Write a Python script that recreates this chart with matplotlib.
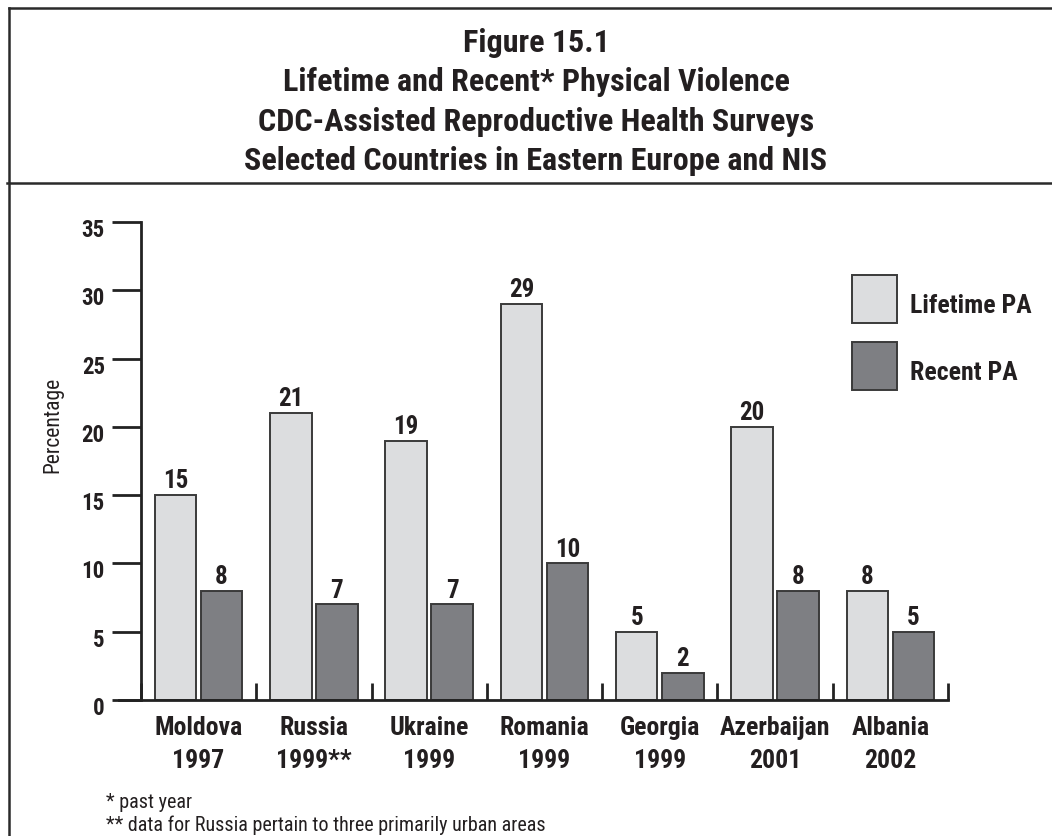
import matplotlib
matplotlib.use("Agg")
import matplotlib.pyplot as plt
import matplotlib.transforms as mtransforms
from matplotlib.lines import Line2D
from matplotlib.patches import Rectangle
import numpy as np

countries = ["Moldova", "Russia", "Ukraine", "Romania", "Georgia", "Azerbaijan", "Albania"]
years = ["1997", "1999**", "1999", "1999", "1999", "2001", "2002"]
lifetime = [15, 21, 19, 29, 5, 20, 8]
recent = [8, 7, 7, 10, 2, 8, 5]
yticks = [0, 5, 10, 15, 20, 25, 30, 35]

light = "#dcdddf"
dark = "#7e7f83"
edge = "#3a3a3a"
txt = "#231f20"

plt.rcParams['font.family'] = ['Roboto Condensed', 'DejaVu Sans']

W, H = 1052, 836
fig = plt.figure(figsize=(W / 100, H / 100), dpi=100)

# frame around title and page
fig.add_artist(Line2D([9 / W, 9 / W], [0, 1 - 8 / H], color="#2a2a2a", lw=1.8))
fig.add_artist(Line2D([9 / W, 1], [1 - 8 / H, 1 - 8 / H], color="#2a2a2a", lw=1.8))
fig.add_artist(Line2D([7 / W, 1], [1 - 183 / H, 1 - 183 / H], color="#2a2a2a", lw=1.8))

titles = ["Figure 15.1", "Lifetime and Recent* Physical Violence",
          "CDC-Assisted Reproductive Health Surveys",
          "Selected Countries in Eastern Europe and NIS"]
for k, t in enumerate(titles):
    fig.text(536 / W, 1 - (52 + 39.3 * k) / H, t, ha="center", va="baseline",
             fontsize=23, fontweight="bold", color=txt)

ax = fig.add_axes([119 / W, 1 - 700 / H, (948 - 119) / W, (700 - 222) / H])
x = np.arange(len(countries))
bw = 0.36
ax.bar(x + 0.30, lifetime, bw, color=light, edgecolor=edge, linewidth=1.4, label="Lifetime PA")
ax.bar(x + 0.70, recent, bw, color=dark, edgecolor=edge, linewidth=1.4, label="Recent PA")

for i in range(len(countries)):
    ax.text(x[i] + 0.30, lifetime[i] + 0.5, str(lifetime[i]), ha="center", va="baseline",
            fontsize=18, fontweight="bold", color=txt)
    ax.text(x[i] + 0.70, recent[i] + 0.5, str(recent[i]), ha="center", va="baseline",
            fontsize=18, fontweight="bold", color=txt)

ax.set_xlim(-0.19, 7)
ax.set_ylim(0, 35)
ax.spines["top"].set_visible(False)
ax.spines["right"].set_visible(False)
ax.spines["left"].set_position(("data", 0))
ax.spines["left"].set_linewidth(2)
ax.spines["bottom"].set_linewidth(2)
ax.spines["left"].set_color("#222222")
ax.spines["bottom"].set_color("#222222")

ax.set_yticks(yticks)
ax.set_yticklabels([str(v) for v in yticks], fontsize=16.5, fontweight="bold", color=txt)
ax.tick_params(axis="y", direction="out", length=21, width=2, pad=5, color="#222222")
shift = mtransforms.ScaledTranslation(0, -6 / 100, fig.dpi_scale_trans)
for lab in ax.get_yticklabels():
    lab.set_transform(lab.get_transform() + shift)

# group boundary ticks on the x axis
ax.set_xticks(np.arange(0, 8))
ax.set_xticklabels([])
ax.tick_params(axis="x", direction="in", length=12, width=2, color="#222222")
axh = 700 - 222
for i in range(len(countries)):
    ax.text(x[i] + 0.5, (700 - 735) / axh, countries[i], transform=ax.get_xaxis_transform(),
            ha="center", va="baseline", fontsize=18.5, fontweight="bold", color=txt)
    ax.text(x[i] + 0.5, (700 - 768) / axh, years[i], transform=ax.get_xaxis_transform(),
            ha="center", va="baseline", fontsize=18.5, fontweight="bold", color=txt)

ax.set_ylabel("Percentage", fontsize=15.5, color=txt)
ax.yaxis.set_label_coords((63 - 119) / (948 - 119), 0.575)

# legend boxes and labels
for k, (lab, col) in enumerate([("Lifetime PA", light), ("Recent PA", dark)]):
    y0 = 275 + 67 * k
    fig.add_artist(Rectangle((852 / W, 1 - (y0 + 48) / H), 45 / W, 48 / H,
                             facecolor=col, edgecolor=edge, linewidth=1.4))
    fig.text(910 / W, 1 - (y0 + 38) / H, lab, ha="left", va="baseline",
             fontsize=18.5, fontweight="bold", color=txt)

fig.text(106 / W, 1 - 808 / H, "* past year", ha="left", va="baseline", fontsize=14.5, color=txt)
fig.text(106 / W, 1 - 831 / H, "** data for Russia pertain to three primarily urban areas",
         ha="left", va="baseline", fontsize=14.5, color=txt)

fig.savefig("out.png", dpi=100)
